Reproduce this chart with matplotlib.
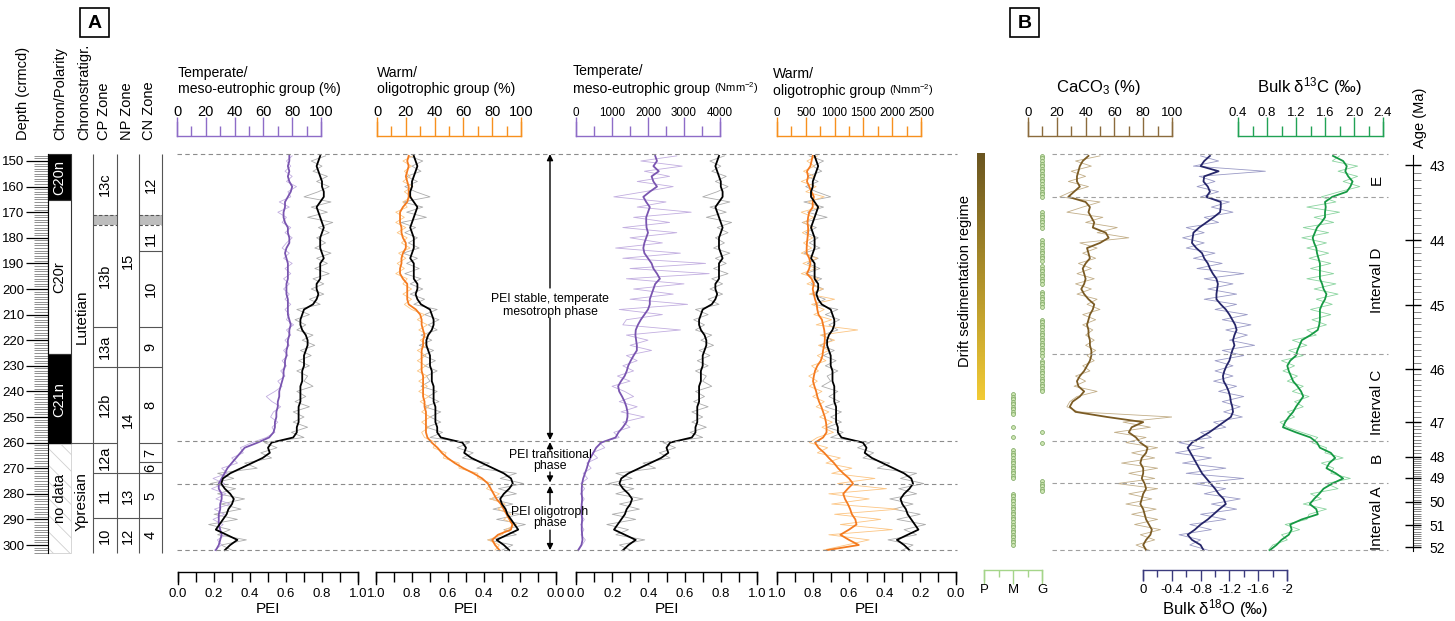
import numpy as np
from matplotlib import pyplot as plt
from matplotlib import font_manager
from matplotlib.patches import Rectangle
from matplotlib.colors import LinearSegmentedColormap

# ---------------- data ----------------
DEPTH = [148, 150, 152, 154, 156, 158, 160, 162, 164, 166,
         168, 170, 172, 174, 176, 178, 180, 182, 184, 186,
         188, 190, 192, 194, 196, 198, 200, 202, 204, 206,
         208, 210, 212, 214, 216, 218, 220, 222, 224, 226,
         228, 230, 232, 234, 236, 238, 240, 242, 244, 246,
         248, 250, 252, 254, 256, 258, 260, 262, 264, 266,
         268, 270, 272, 274, 276, 278, 280, 282, 284, 286,
         288, 290, 292, 294, 296, 298, 300, 302]

PEI_SMOOTH = [.79, .78, .77, .78, .79, .80, .80, .81, .81, .79,
              .77, .78, .79, .80, .81, .80, .79, .79, .79, .80,
              .81, .79, .79, .79, .79, .77, .77, .78, .77, .75,
              .70, .69, .68, .68, .69, .71, .72, .72, .71, .70,
              .70, .70, .69, .69, .69, .68, .68, .68, .68, .67,
              .67, .67, .67, .66, .66, .64, .52, .50, .51, .47,
              .41, .35, .29, .25, .24, .26, .29, .31, .30, .28,
              .27, .25, .23, .21, .27, .33, .29, .26]
PEI_RAW = [.82, .74, .80, .75, .83, .77, .84, .78, .70, .85,
           .74, .83, .72, .86, .78, .84, .77, .82, .76, .85,
           .77, .83, .76, .84, .75, .81, .74, .81, .73, .79,
           .66, .73, .65, .71, .66, .75, .69, .76, .68, .74,
           .67, .73, .66, .72, .70, .75, .66, .71, .65, .73,
           .64, .70, .64, .72, .63, .70, .48, .55, .46, .52,
           .37, .44, .22, .31, .18, .32, .22, .37, .24, .35,
           .20, .33, .17, .29, .22, .38, .24, .30]

TEMP_PCT = [78, 78, 77, 78, 77, 78, 80, 79, 77, 75,
            75, 74, 74, 75, 77, 77, 78, 78, 76, 75,
            76, 77, 77, 77, 77, 76, 76, 76, 77, 77,
            77, 77, 78, 79, 78, 78, 77, 77, 76, 76,
            75, 75, 74, 74, 73, 72, 71, 71, 70, 70,
            69, 69, 68, 68, 67, 64, 56, 47, 44, 41,
            38, 35, 33, 31, 29, 29, 31, 31, 30, 30,
            29, 29, 29, 30, 31, 30, 29, 27]
TEMP_PCT_RAW = [80, 76, 79, 75, 80, 76, 83, 77, 79, 71,
                78, 70, 76, 73, 79, 75, 80, 76, 73, 78,
                74, 80, 75, 79, 74, 78, 74, 78, 75, 79,
                75, 78, 76, 81, 76, 79, 75, 78, 74, 77,
                73, 76, 72, 75, 70, 73, 68, 62, 66, 72,
                67, 65, 70, 66, 68, 62, 52, 44, 46, 38,
                42, 31, 35, 25, 33, 24, 34, 27, 37, 26,
                33, 25, 32, 27, 34, 28, 31, 26]

WARM_PCT = [22, 21, 22, 21, 20, 21, 22, 22, 22, 21,
            18, 16, 16, 16, 17, 17, 18, 20, 20, 18,
            17, 17, 16, 16, 18, 21, 21, 21, 21, 22,
            27, 30, 31, 31, 32, 33, 32, 32, 31, 31,
            31, 31, 31, 32, 32, 32, 32, 32, 33, 33,
            34, 34, 34, 34, 34, 35, 38, 42, 45, 49,
            54, 60, 67, 73, 77, 79, 81, 83, 86, 88,
            90, 92, 94, 93, 84, 80, 82, 85]
WARM_PCT_RAW = [25, 18, 24, 19, 23, 18, 25, 19, 24, 18,
                21, 13, 19, 13, 20, 14, 21, 17, 23, 15,
                20, 14, 19, 13, 21, 18, 24, 18, 24, 19,
                24, 33, 28, 35, 29, 36, 30, 35, 28, 34,
                28, 34, 28, 35, 29, 35, 29, 36, 30, 36,
                31, 37, 31, 36, 31, 33, 41, 39, 48, 46,
                57, 57, 70, 70, 80, 76, 85, 79, 89, 84,
                93, 88, 97, 89, 87, 77, 85, 82]

TEMP_N = [2200, 2250, 2150, 2300, 2100, 2150, 2250, 2050, 1870, 1950,
          2050, 2000, 1950, 1950, 1960, 2000, 1950, 1900, 1870, 1900,
          2000, 2100, 2150, 2250, 2330, 2200, 2150, 2100, 2050, 2050,
          2000, 1900, 1800, 1720, 1660, 1650, 1670, 1690, 1690, 1600,
          1520, 1450, 1410, 1350, 1250, 1170, 1200, 1280, 1350, 1400,
          1430, 1430, 1400, 1300, 1180, 1100, 700, 560, 480, 400,
          340, 300, 250, 200, 170, 160, 160, 170, 160, 150,
          160, 170, 160, 160, 170, 180, 150, 60]
TEMP_N_RAW = [2800, 1800, 2950, 1900, 2600, 1700, 2700, 1900, 1050, 2500,
              1700, 3200, 1600, 2600, 1300, 2800, 1500, 2400, 1100, 2900,
              1300, 3600, 1500, 3700, 1400, 3000, 1600, 2700, 1500, 3100,
              1200, 2400, 1400, 1300, 2900, 1400, 2000, 1500, 2100, 1400,
              1700, 1300, 1600, 1150, 1500, 1000, 1350, 1600, 1200, 1700,
              1250, 1900, 1300, 1500, 1050, 1200, 650, 800, 450, 600,
              300, 420, 200, 320, 130, 240, 120, 230, 140, 210,
              120, 230, 130, 220, 140, 260, 170, 80]

WARM_N = [620, 600, 580, 520, 540, 520, 560, 600, 640, 620,
          620, 560, 540, 530, 540, 540, 530, 520, 515, 515,
          560, 580, 560, 520, 600, 640, 620, 640, 660, 690,
          700, 720, 780, 800, 820, 830, 830, 820, 800, 790,
          760, 700, 660, 640, 625, 650, 680, 700, 730, 770,
          800, 830, 850, 860, 860, 800, 660, 720, 820, 900,
          990, 1060, 1150, 1250, 1320, 1230, 1150, 1180, 1230, 1270,
          1300, 1360, 1380, 1250, 1100, 1250, 1420, 870]
WARM_N_RAW = [700, 520, 650, 460, 650, 420, 680, 500, 820, 540,
              740, 420, 640, 450, 620, 440, 620, 460, 600, 420,
              700, 450, 680, 420, 720, 520, 800, 560, 1000, 600,
              820, 640, 950, 680, 1400, 750, 1000, 720, 900, 700,
              850, 600, 720, 550, 700, 560, 780, 620, 820, 680,
              900, 740, 960, 780, 980, 700, 560, 880, 700, 1100,
              850, 1300, 950, 1700, 1050, 1900, 900, 1600, 950, 2100,
              1000, 1800, 1100, 2000, 900, 1600, 1200, 800]

CACO3 = [42, 38, 36, 35, 34, 34, 36, 32, 28, 40,
         43, 42, 44, 46, 45, 54, 56, 50, 41, 42,
         43, 40, 38, 39, 40, 39, 37, 39, 42, 46,
         45, 43, 42, 41, 42, 42, 43, 43, 44, 44,
         43, 41, 39, 36, 34, 35, 39, 36, 31, 29,
         33, 55, 80, 72, 70, 75, 78, 83, 82, 79,
         78, 80, 80, 79, 81, 82, 80, 79, 78, 80,
         81, 82, 84, 86, 85, 82, 80, 82]
CACO3_RAW = [50, 33, 44, 30, 40, 28, 42, 30, 22, 50,
             38, 27, 52, 40, 62, 48, 70, 36, 48, 38,
             47, 35, 44, 34, 46, 33, 44, 34, 48, 41,
             50, 38, 47, 38, 45, 40, 46, 40, 47, 41,
             46, 38, 43, 33, 40, 32, 48, 34, 29, 27,
             35, 100, 66, 85, 60, 82, 68, 90, 72, 88,
             65, 90, 70, 88, 62, 90, 70, 86, 68, 89,
             72, 90, 74, 92, 78, 88, 75, 84]

D18O = [-0.93, -0.85, -0.80, -1.05, -0.85, -0.84, -0.90, -0.93, -0.88, -1.08,
        -1.08, -1.07, -0.98, -0.88, -0.78, -0.70, -0.69, -0.68, -0.74, -0.82,
        -0.85, -0.90, -0.93, -0.97, -1.02, -1.04, -1.03, -1.02, -1.02, -1.08,
        -1.15, -1.20, -1.24, -1.28, -1.30, -1.27, -1.25, -1.27, -1.24, -1.22,
        -1.20, -1.16, -1.13, -1.11, -1.12, -1.16, -1.19, -1.21, -1.22, -1.24,
        -1.25, -1.22, -1.12, -1.02, -0.92, -0.80, -0.68, -0.62, -0.66, -0.70,
        -0.74, -0.78, -0.82, -0.88, -0.94, -1.00, -1.05, -1.12, -1.15, -1.06,
        -0.98, -0.90, -0.80, -0.72, -0.62, -0.68, -0.80, -0.84]
D18O_RAW = [-0.80, -1.05, -0.70, -1.70, -0.78, -1.00, -0.75, -1.05, -0.80, -1.20,
            -0.95, -1.25, -0.85, -1.05, -0.60, -0.85, -0.55, -0.85, -0.60, -1.00,
            -0.70, -1.10, -0.75, -1.40, -0.85, -1.25, -0.90, -1.30, -0.85, -1.30,
            -1.00, -1.45, -1.10, -1.50, -1.15, -1.45, -1.20, -1.55, -1.10, -1.40,
            -1.00, -1.25, -1.00, -1.25, -0.98, -1.30, -1.05, -1.40, -1.10, -1.35,
            -1.12, -1.38, -0.98, -1.15, -0.80, -0.95, -0.50, -0.85, -0.45, -0.95,
            -0.55, -1.15, -0.60, -1.40, -0.70, -1.15, -0.85, -1.35, -0.95, -1.30,
            -0.80, -1.15, -0.65, -0.95, -0.50, -0.80, -0.65, -0.90]

D13C = [1.71, 1.85, 1.90, 1.88, 1.92, 1.98, 1.95, 1.90, 1.70, 1.60,
        1.61, 1.60, 1.60, 1.55, 1.49, 1.46, 1.43, 1.45, 1.48, 1.49,
        1.51, 1.53, 1.53, 1.53, 1.53, 1.56, 1.58, 1.62, 1.60, 1.56,
        1.53, 1.53, 1.53, 1.52, 1.50, 1.40, 1.28, 1.25, 1.22, 1.20,
        1.12, 1.08, 1.10, 1.13, 1.16, 1.22, 1.27, 1.30, 1.25, 1.20,
        1.16, 1.10, 1.05, 1.02, 1.20, 1.40, 1.49, 1.53, 1.68, 1.74,
        1.66, 1.62, 1.75, 1.85, 1.70, 1.58, 1.52, 1.45, 1.39, 1.48,
        1.50, 1.28, 1.12, 1.14, 1.10, 1.00, 0.93, 0.84]
D13C_RAW = [1.80, 1.70, 2.05, 1.78, 2.05, 1.85, 2.08, 1.80, 1.55, 1.75,
            1.35, 1.80, 1.45, 1.72, 1.30, 1.65, 1.28, 1.62, 1.35, 1.65,
            1.38, 1.68, 1.40, 1.72, 1.35, 1.75, 1.45, 1.78, 1.48, 1.70,
            1.40, 1.68, 1.42, 1.62, 1.35, 1.48, 1.15, 1.35, 1.10, 1.30,
            1.00, 1.18, 1.02, 1.22, 1.08, 1.30, 1.15, 1.38, 1.18, 1.30,
            1.08, 1.18, 0.98, 1.08, 1.28, 1.50, 1.42, 1.62, 1.60, 1.85,
            1.55, 1.72, 1.68, 1.95, 1.62, 1.78, 1.40, 1.55, 1.30, 1.62,
            1.38, 1.35, 1.05, 1.25, 1.00, 1.08, 0.88, 0.82]

# nannofossil preservation (G = good, M = moderate), sample depths
PRES_G = [148, 149, 150, 151, 152, 153, 154, 155, 156, 157, 158, 159, 160, 161, 162, 163, 164,
          170, 171, 172, 173, 174, 175, 176,
          181, 182, 183, 184, 185, 186, 187, 188, 189,
          191, 192, 193, 194, 195, 196, 197, 198,
          201, 202, 203, 204, 205, 206, 207,
          212, 213, 214, 215, 216, 217, 218, 219, 220, 221, 222, 223, 224, 225, 226,
          228, 229, 230, 231, 232, 233, 234, 235, 236, 237, 238, 239, 240,
          256, 260, 275, 276, 277, 278, 279]
PRES_M = [241, 242, 243, 244, 245, 246, 247, 248, 249, 254, 258,
          263, 264, 265, 266, 267, 268, 269, 270, 271, 272, 273, 274,
          280, 281, 282, 283, 284, 285, 286, 287, 288, 289, 290,
          291, 292, 293, 294, 295, 296, 297, 298, 299, 300]

AGE_TICKS = [43, 44, 45, 46, 47, 48, 49, 50, 51, 52]
AGE_DEPTH = [151.6, 181.0, 206.3, 231.3, 252.0, 265.6, 273.8, 283.2, 292.2, 300.8]

PHASE_BOUNDS = [147.4, 259.4, 276.2, 302.0]
INTERVAL_BOUNDS = [147.4, 164.1, 225.4, 259.4, 275.8, 302.0]
INTERVALS = [('E', 157.4), ('Interval D', 196.5), ('Interval C', 244.1), ('B', 266.0), ('Interval A', 289.5)]

COL_TOP, COL_BOT = 147.3, 303.0
CHRON = [('C20n', 147.3, 165.4, 'black'), ('C20r', 165.4, 225.5, 'white'), ('C21n', 225.5, 260.5, 'black')]
NO_DATA = (260.5, 303.0)
STAGES = [('Lutetian', 147.3, 260.0, 211.0), ('Ypresian', 260.0, 303.0, 283.0)]
CP_ZONES = [('13c', 147.3, 171.0), ('13b', 175.0, 214.7), ('13a', 214.7, 230.5), ('12b', 230.5, 260.0),
            ('12a', 260.0, 272.0), ('11', 272.0, 289.5), ('10', 289.5, 303.0)]
NP_ZONES = [('15', 147.3, 230.5), ('14', 230.5, 272.0), ('13', 272.0, 289.5), ('12', 289.5, 303.0)]
CN_ZONES = [('12', 147.3, 171.0), ('11', 175.0, 185.3), ('10', 185.3, 214.7), ('9', 214.7, 230.5),
            ('8', 230.5, 260.0), ('7', 260.0, 267.7), ('6', 267.7, 272.0), ('5', 272.0, 289.5),
            ('4', 289.5, 303.0)]
GAP = (171.0, 175.0)
DRIFT = (147.3, 243.4)

# ---------------- style ----------------
PURPLE, PURPLE_L, PURPLE_AX = '#7a55b0', '#c2aee0', '#8e6cc7'
ORANGE, ORANGE_L, ORANGE_AX = '#f47b20', '#fcc583', '#f7901e'
BROWN, BROWN_L, BROWN_AX = '#7b5b24', '#c2ae88', '#8b6b3d'
NAVY, NAVY_L, NAVY_AX = '#26266a', '#9a9ac6', '#3b3b7d'
GREEN, GREEN_L, GREEN_AX = '#169a44', '#8ad49f', '#21a255'
GREY_RAW = '#ababab'
PMG_AX = '#a5d58a'

fonts = {f.name for f in font_manager.fontManager.ttflist}
if 'Liberation Sans Narrow' in fonts:
    NARROW, NS = ['Liberation Sans Narrow', 'DejaVu Sans'], 1.0
else:
    NARROW, NS = ['Liberation Sans', 'DejaVu Sans'], 0.84

plt.rcParams['font.family'] = ['Liberation Sans', 'DejaVu Sans']
plt.rcParams['mathtext.fontset'] = 'custom'
plt.rcParams['mathtext.rm'] = 'Liberation Sans'
plt.rcParams['mathtext.default'] = 'regular'
plt.rcParams['hatch.linewidth'] = 0.6

W, H = 1455, 621
Y0, Y1 = 148, 555
D_TOP = 150 + (Y0 - 161) / 2.56
D_BOT = 150 + (Y1 - 161) / 2.56

fig = plt.figure(figsize=(W / 100, H / 100), dpi=100)
cv = fig.add_axes([0, 0, 1, 1])
cv.set_xlim(0, W)
cv.set_ylim(H, 0)
cv.axis('off')


def px_axes(x0, y0, x1, y1):
    ax = fig.add_axes([x0 / W, 1 - y1 / H, (x1 - x0) / W, (y1 - y0) / H])
    ax.patch.set_alpha(0)
    return ax


def depth_axes(x0, x1, xlim):
    ax = px_axes(x0, Y0, x1, Y1)
    ax.set_xlim(*xlim)
    ax.set_ylim(D_BOT, D_TOP)
    ax.axis('off')
    return ax


def top_scale(x0, x1, lim, major, minor, labels, color, size, family=None):
    ax = px_axes(x0, 122, x1, 136)
    ax.set_xlim(*lim)
    ax.set_yticks([])
    ax.spines['top'].set_visible(False)
    for s in ('bottom', 'left', 'right'):
        ax.spines[s].set_color(color)
        ax.spines[s].set_linewidth(1)
    ax.set_xticks(major)
    ax.set_xticks(minor, minor=True)
    ax.set_xticklabels(labels, fontfamily=family or plt.rcParams['font.family'])
    ax.tick_params(axis='x', which='both', direction='in', bottom=True, top=False,
                   labelbottom=False, labeltop=True, color=color, width=1, pad=2, labelsize=size)
    ax.tick_params(axis='x', which='major', length=14)
    ax.tick_params(axis='x', which='minor', length=7)
    return ax


def bottom_scale(x0, x1, lim, major, minor, labels, color, size, y0=572, h=12,
                 maj_len=7, min_len=7, title=None, title_size=11, family=None):
    ax = px_axes(x0, y0, x1, y0 + h)
    ax.set_xlim(*lim)
    ax.set_yticks([])
    ax.spines['bottom'].set_visible(False)
    for s in ('top', 'left', 'right'):
        ax.spines[s].set_color(color)
        ax.spines[s].set_linewidth(1)
    ax.set_xticks(major)
    ax.set_xticks(minor, minor=True)
    ax.set_xticklabels(labels, fontfamily=family or plt.rcParams['font.family'])
    ax.tick_params(axis='x', which='both', direction='in', top=True, bottom=False,
                   labeltop=False, labelbottom=True, color=color, width=1, pad=3, labelsize=size)
    ax.tick_params(axis='x', which='major', length=maj_len)
    ax.tick_params(axis='x', which='minor', length=min_len)
    if title:
        ax.set_xlabel(title, fontsize=title_size, labelpad=1)
    return ax


# ---------------- panel A: stratigraphic columns ----------------
st = depth_axes(0, 165, (0, 165))
for name, d0, d1, fc in CHRON:
    st.add_patch(Rectangle((48, d0), 23, d1 - d0, fc=fc, ec='#333333', lw=0.8))
    st.text(59.5, (d0 + d1) / 2, name, rotation=90, ha='center', va='center', fontsize=10.5,
            color='white' if fc == 'black' else 'black')
st.add_patch(Rectangle((48, NO_DATA[0]), 23, NO_DATA[1] - NO_DATA[0], fc='white',
                       ec='#d0d0d0', lw=0.6, hatch='\\\\'))
st.text(59.5, (NO_DATA[0] + NO_DATA[1]) / 2, 'no data', rotation=90, ha='center', va='center', fontsize=10.5)
for name, d0, d1, lab in STAGES:
    st.text(82, lab, name, rotation=90, ha='center', va='center', fontsize=11)
st.hlines(STAGES[0][2], 71, 93, color='#555555', lw=0.8)
for zones, xa, xb in ((CP_ZONES, 93, 117), (NP_ZONES, 117, 139), (CN_ZONES, 139, 162)):
    for name, d0, d1 in zones:
        st.text((xa + xb) / 2, (d0 + d1) / 2, name, rotation=90, ha='center', va='center', fontsize=10.5)
        if d1 < COL_BOT - 1 and d1 != GAP[0]:
            st.hlines(d1, xa, xb, color='#555555', lw=0.8)
for xa, xb in ((93, 117), (139, 162)):
    st.add_patch(Rectangle((xa, GAP[0]), xb - xa, GAP[1] - GAP[0], fc='#bdbdbd', ec='none'))
    st.hlines(GAP, xa, xb, color='#555555', lw=0.8, linestyles=(0, (3, 2)))
st.vlines([93, 117, 139, 162], COL_TOP, COL_BOT, color='#555555', lw=0.8)

ruler = px_axes(48, Y0, 49, Y1)
ruler.set_ylim(D_BOT, D_TOP)
ruler.set_xticks([])
for s in ('top', 'bottom', 'right'):
    ruler.spines[s].set_visible(False)
ruler.spines['left'].set_bounds(COL_TOP, COL_BOT)
ruler.set_yticks(list(range(150, 301, 10)))
ruler.set_yticks(list(range(148, 304)), minor=True)
ruler.tick_params(axis='y', which='major', length=16, width=0.9, labelsize=9.5, pad=1)
ruler.tick_params(axis='y', which='minor', length=10, width=0.5, color='#666666')

for x, s in ((23, 'Depth (crmcd)'), (60, 'Chron/Polarity'), (84, 'Chronostratigr.'),
             (104, 'CP Zone'), (127, 'NP Zone'), (149, 'CN Zone')):
    cv.text(x, 140, s, rotation=90, ha='center', va='bottom', fontsize=10.5)

for x0, lab in ((80, 'A'), (1010, 'B')):
    cv.add_patch(Rectangle((x0, 8), 29, 29, fill=False, ec='black', lw=1.2))
    cv.text(x0 + 14.5, 23, lab, ha='center', va='center', fontsize=14, fontweight='bold')

# ---------------- panel A: PEI tracks ----------------
PEI_TRACKS = [(178, 358, (0, 1)), (376, 556, (1, 0)), (576, 757, (0, 1)), (777, 956, (1, 0))]
groups = [(177, 321, (0, 100), TEMP_PCT_RAW, TEMP_PCT, PURPLE_L, PURPLE),
          (377, 521, (0, 100), WARM_PCT_RAW, WARM_PCT, ORANGE_L, ORANGE),
          (576, 720, (0, 4000), TEMP_N_RAW, TEMP_N, PURPLE_L, PURPLE),
          (777, 921, (0, 2500), WARM_N_RAW, WARM_N, ORANGE_L, ORANGE)]
for (gx0, gx1, glim, raw, smooth, cl, cd), (px0, px1, plim) in zip(groups, PEI_TRACKS):
    pa = depth_axes(px0, px1, plim)
    pa.plot(PEI_RAW, DEPTH, color=GREY_RAW, lw=0.6)
    ga = depth_axes(gx0, gx1, glim)
    ga.plot(raw, DEPTH, color=cl, lw=0.6)
    ga.plot(smooth, DEPTH, color=cd, lw=1.3)
    pb = depth_axes(px0, px1, plim)
    pb.plot(PEI_SMOOTH, DEPTH, color='black', lw=1.3)
    bottom_scale(px0, px1, plim, [0, .2, .4, .6, .8, 1], [.1, .3, .5, .7, .9],
                 ['0.0', '0.2', '0.4', '0.6', '0.8', '1.0'], 'black', 9.5,
                 title='PEI', title_size=11)

top_scale(177, 321, (0, 100), [0, 20, 40, 60, 80, 100], [10, 30, 50, 70, 90],
          ['0', '20', '40', '60', '80', '100'], PURPLE_AX, 10.5)
top_scale(377, 521, (0, 100), [0, 20, 40, 60, 80, 100], [10, 30, 50, 70, 90],
          ['0', '20', '40', '60', '80', '100'], ORANGE_AX, 10.5)
top_scale(576, 720, (0, 4000), [0, 1000, 2000, 3000, 4000], [500, 1500, 2500, 3500],
          ['0', '1000', '2000', '3000', '4000'], PURPLE_AX, 10 * NS, NARROW)
top_scale(777, 921, (0, 2500), [0, 500, 1000, 1500, 2000, 2500], [250, 750, 1250, 1750, 2250],
          ['0', '500', '1000', '1500', '2000', '2500'], ORANGE_AX, 10 * NS, NARROW)

TS = 12 * NS
cv.text(178, 77, 'Temperate/', fontsize=TS, family=NARROW, va='baseline')
cv.text(178, 93, 'meso-eutrophic group (%)', fontsize=TS, family=NARROW, va='baseline')
cv.text(377, 77, 'Warm/', fontsize=TS, family=NARROW, va='baseline')
cv.text(377, 93, 'oligotrophic group (%)', fontsize=TS, family=NARROW, va='baseline')
cv.text(573, 75, 'Temperate/', fontsize=TS, family=NARROW, va='baseline')
t3 = cv.text(573, 93, 'meso-eutrophic group ', fontsize=TS, family=NARROW, va='baseline')
cv.annotate('(Nmm$^{-2}$)', xy=(1, 0), xycoords=t3, va='bottom', fontsize=9.5 * NS, family=NARROW)
cv.text(773, 78, 'Warm/', fontsize=TS, family=NARROW, va='baseline')
t4 = cv.text(773, 95, 'oligotrophic group ', fontsize=TS, family=NARROW, va='baseline')
cv.annotate('(Nmm$^{-2}$)', xy=(1, 0), xycoords=t4, va='bottom', fontsize=9.5 * NS, family=NARROW)

# phase boundaries, arrows, drift bar
ova = depth_axes(160, 995, (160, 995))
ova.hlines(PHASE_BOUNDS, 177, 957, colors='#8c8c8c', lw=0.8, linestyles=(0, (4, 3)))


def arrow(ax, x, d_from, d_to):
    ax.annotate('', xy=(x, d_to), xytext=(x, d_from),
                arrowprops=dict(arrowstyle='-|>', color='black', lw=1, mutation_scale=9,
                                shrinkA=0, shrinkB=0))


AS = 10.5 * NS
arrow(ova, 550, 199.6, 147.3)
arrow(ova, 550, 211.3, 259.0)
ova.text(550, 204.0, 'PEI stable, temperate', ha='center', va='center', fontsize=AS, family=NARROW)
ova.text(550, 209.0, 'mesotroph phase', ha='center', va='center', fontsize=AS, family=NARROW)
arrow(ova, 550, 263.0, 259.8)
ova.text(550, 265.0, 'PEI transitional', ha='center', va='center', fontsize=AS, family=NARROW)
ova.text(550, 269.3, 'phase', ha='center', va='center', fontsize=AS, family=NARROW)
arrow(ova, 550, 271.5, 275.6)
arrow(ova, 550, 284.2, 276.9)
ova.text(550, 287.2, 'PEI oligotroph', ha='center', va='center', fontsize=AS, family=NARROW)
ova.text(550, 291.5, 'phase', ha='center', va='center', fontsize=AS, family=NARROW)
arrow(ova, 550, 294.2, 302.0)

drift_cmap = LinearSegmentedColormap.from_list('drift', ['#6a5520', '#f2cb35'])
ova.imshow(np.linspace(0, 1, 200).reshape(-1, 1), cmap=drift_cmap, aspect='auto',
           extent=(977, 985, DRIFT[1], DRIFT[0]), origin='upper')
ova.set_xlim(160, 995)
ova.set_ylim(D_BOT, D_TOP)
ova.text(965, 197.0, 'Drift sedimentation regime', rotation=90, ha='center', va='center',
         fontsize=12.5 * NS, family=NARROW)

# ---------------- panel B ----------------
pres = depth_axes(984, 1042, (0, 2))
pres.plot([2] * len(PRES_G), PRES_G, 'o', ms=2.8, mfc='#cde5b2', mec='#76a35a', mew=0.5, clip_on=False)
pres.plot([1] * len(PRES_M), PRES_M, 'o', ms=2.8, mfc='#cde5b2', mec='#76a35a', mew=0.5, clip_on=False)

for x0, x1, lim, raw, smooth, cl, cd in ((1028, 1172, (0, 100), CACO3_RAW, CACO3, BROWN_L, BROWN),
                                         (1143, 1287, (0, -2), D18O_RAW, D18O, NAVY_L, NAVY),
                                         (1238, 1383, (0.4, 2.4), D13C_RAW, D13C, GREEN_L, GREEN)):
    ax = depth_axes(x0, x1, lim)
    ax.plot(raw, DEPTH, color=cl, lw=0.6)
    ax.plot(smooth, DEPTH, color=cd, lw=1.3)

top_scale(1028, 1172, (0, 100), [0, 20, 40, 60, 80, 100], [10, 30, 50, 70, 90],
          ['0', '20', '40', '60', '80', '100'], BROWN_AX, 9.5)
top_scale(1238, 1383, (0.4, 2.4), [0.4, 0.8, 1.2, 1.6, 2.0, 2.4], [0.6, 1.0, 1.4, 1.8, 2.2],
          ['0.4', '0.8', '1.2', '1.6', '2.0', '2.4'], GREEN_AX, 9.5)
bottom_scale(1143, 1287, (0, -2), [0, -0.4, -0.8, -1.2, -1.6, -2], [-0.2, -0.6, -1.0, -1.4, -1.8],
             ['0', '-0.4', '-0.8', '-1.2', '-1.6', '-2'], NAVY_AX, 9.5, y0=570, h=10,
             maj_len=8, min_len=5, title='Bulk δ$^{18}$O (‰)', title_size=12)
bottom_scale(984, 1042, (0, 2), [0, 1, 2], [0.5, 1.5], ['P', 'M', 'G'], PMG_AX, 9.5,
             y0=570, h=10, maj_len=10, min_len=5)

cv.text(1098, 92, 'CaCO$_3$ (%)', ha='center', va='baseline', fontsize=12)
cv.text(1310, 92, 'Bulk δ$^{13}$C (‰)', ha='center', va='baseline', fontsize=12)
cv.text(1420, 118, 'Age (Ma)', rotation=90, ha='center', va='center', fontsize=10.5)

ovb = depth_axes(1045, 1455, (1045, 1455))
ovb.hlines(INTERVAL_BOUNDS, 1052, 1388, colors='#a0a0a0', lw=0.8, linestyles=(0, (4, 3)))
for name, d in INTERVALS:
    ovb.text(1377, d, name, rotation=90, ha='center', va='center', fontsize=11)

age = px_axes(1412, Y0, 1413, Y1)
age.set_ylim(D_BOT, D_TOP)
age.set_xticks([])
for s in ('top', 'bottom', 'left'):
    age.spines[s].set_visible(False)
age.spines['right'].set_bounds(147.7, 302.5)
age.yaxis.tick_right()
age.set_yticks(AGE_DEPTH)
age.set_yticklabels([str(a) for a in AGE_TICKS])
age.set_yticks(np.interp(np.arange(430, 521) / 10, AGE_TICKS, AGE_DEPTH), minor=True)
age.tick_params(axis='y', which='major', direction='inout', length=12, width=1, labelsize=10, pad=6)
age.tick_params(axis='y', which='minor', direction='out', length=6, width=0.5, color='#555555')

fig.savefig('out.png', dpi=100)
